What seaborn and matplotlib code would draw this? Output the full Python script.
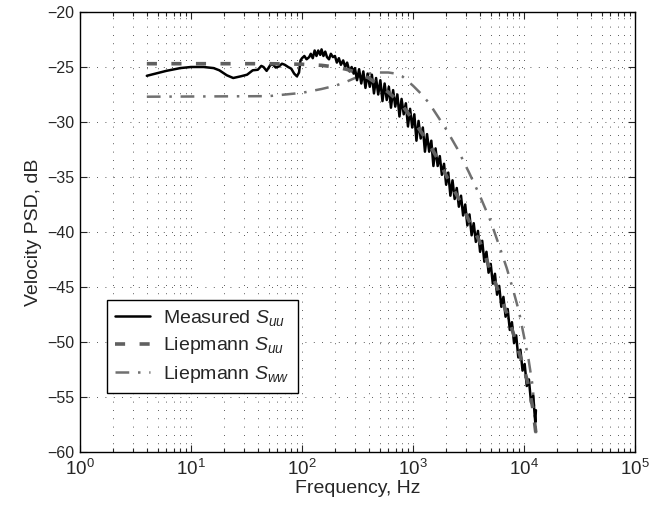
import numpy as np
import pandas as pd
import matplotlib
matplotlib.use("Agg")
import matplotlib.pyplot as plt
from matplotlib.ticker import LogLocator, LogFormatterMathtext, MultipleLocator, NullFormatter
import seaborn as sns

# ---------------- data ----------------
meas_freq = [4, 6, 8, 10, 13, 16, 18, 21, 24, 28, 32, 36, 40, 43, 45, 48, 52, 55, 58, 62,
             66, 70, 75, 80, 85, 90, 94, 97,
             100, 105, 110, 116, 120, 125, 130, 135, 140, 146, 150, 156, 162, 168, 175, 182,
             190, 198, 206, 215, 224, 235, 245, 255, 268, 280, 292,
             300, 313, 327, 342, 357, 373, 390, 408, 426, 445, 465, 486, 508, 531, 555, 580,
             606, 633, 662, 692, 723, 755, 789, 825, 862, 901, 941, 984, 1028, 1074, 1122,
             1173, 1226, 1281, 1338, 1399, 1462, 1527, 1596, 1668, 1743, 1821, 1903, 1989,
             2078, 2172, 2270, 2372, 2478, 2590, 2707, 2828, 2955, 3088, 3227, 3373, 3524,
             3683, 3849, 4022, 4203, 4392, 4590, 4796, 5012, 5238, 5474, 5720, 5978, 6247,
             6528, 6822, 7129, 7450, 7785, 8136, 8502, 8885, 9284, 9702, 10139, 10595,
             11072, 11570, 12091, 12635, 12800]
meas_db = [-25.8, -25.35, -25.1, -25.0, -25.0, -25.1, -25.3, -25.75, -26.0, -25.85, -25.7,
           -25.3, -25.25, -24.9, -25.0, -25.35, -24.8, -24.8, -25.05, -24.95, -24.7, -24.8,
           -25.0, -25.15, -25.6, -25.85, -25.5, -24.4,
           -24.2, -24.0, -24.3, -24.1, -23.8, -24.2, -23.5, -24.0, -23.5, -23.9, -23.4,
           -24.0, -23.6, -24.1, -24.3, -23.8, -24.1, -24.0, -24.6, -24.2, -24.8, -24.4,
           -25.0, -24.6, -25.4, -25.0, -25.6,
           -25.1, -26.2, -25.2, -26.5, -25.4, -26.9, -25.6, -26.8, -25.7, -27.4, -26.0,
           -27.5, -26.2, -28.1, -26.5, -28.0, -26.8, -28.7, -27.1, -28.6, -27.5, -29.5,
           -27.9, -29.3, -28.3, -30.4, -28.8, -30.5, -29.3, -31.7, -29.9, -31.5, -30.5,
           -32.7, -31.1, -32.7, -31.7, -34.0, -32.4, -34.0, -33.1, -34.8, -33.8, -35.7,
           -34.6, -36.7, -35.3, -37.0, -36.0, -37.7, -36.7, -38.5, -37.5, -39.4, -38.4,
           -40.3, -39.2, -40.9, -39.9, -41.8, -40.8, -42.7, -41.8, -43.7, -42.9, -44.7,
           -43.8, -45.7, -44.9, -46.8, -45.9, -47.7, -47.0, -48.9, -48.2, -50.1, -49.4,
           -51.4, -50.7, -52.6, -52.0, -54.0, -53.4, -55.5, -54.9, -57.3, -56.2]

suu_freq = [4, 50, 100, 150, 200, 250, 300, 400, 500, 600, 700, 800, 1000, 1200, 1400,
            1700, 2000, 2400, 2700, 3200, 4000, 5000, 6000, 7000, 8000, 9000, 10000,
            11000, 12000, 12800]
suu_db = [-24.7, -24.7, -24.75, -24.85, -25.0, -25.2, -25.45, -26.0, -26.7, -27.3, -27.9,
          -28.5, -29.8, -31.0, -32.0, -33.5, -34.9, -36.4, -37.3, -39.0, -40.9, -43.5,
          -45.6, -47.4, -49.2, -50.9, -52.4, -54.0, -56.0, -58.3]

sww_freq = [4, 50, 100, 150, 200, 250, 300, 400, 500, 600, 700, 800, 1000, 1200, 1400,
            1700, 2000, 2500, 3200, 4000, 5000, 6000, 7000, 8000, 9000, 10000, 11000,
            12000, 12800]
sww_db = [-27.7, -27.65, -27.35, -27.0, -26.7, -26.35, -26.0, -25.6, -25.5, -25.5, -25.6,
          -25.85, -26.7, -27.5, -28.3, -29.6, -30.7, -32.4, -34.6, -36.7, -39.0, -41.3,
          -43.3, -45.3, -47.2, -49.5, -51.6, -54.1, -58.3]

labels = ["Measured $S_{uu}$", "Liepmann $S_{uu}$", "Liepmann $S_{ww}$"]

# ---------------- style ----------------
sns.set_style("ticks")
plt.rcParams["font.family"] = ["Liberation Sans", "DejaVu Sans"]
plt.rcParams["mathtext.fontset"] = "custom"
plt.rcParams["mathtext.rm"] = "Liberation Sans"
plt.rcParams["mathtext.it"] = "Liberation Sans:italic"
plt.rcParams["mathtext.bf"] = "Liberation Sans:bold"
plt.rcParams["lines.dash_capstyle"] = "butt"

fig = plt.figure(figsize=(6.65, 5.09), dpi=100)
ax = fig.add_axes([80 / 665, 1 - 452 / 509, 555 / 665, 440 / 509])

df_m = pd.DataFrame({"f": meas_freq, "db": meas_db})
df_u = pd.DataFrame({"f": suu_freq, "db": suu_db, "s": labels[1]})
df_w = pd.DataFrame({"f": sww_freq, "db": sww_db, "s": labels[2]})

sns.lineplot(data=df_w, x="f", y="db", ax=ax, estimator=None, sort=False,
             style="s", dashes={labels[2]: (5.5, 3.5, 1, 3.5)},
             color="#707070", linewidth=1.8, zorder=3)
sns.lineplot(data=df_m, x="f", y="db", ax=ax, estimator=None, sort=False,
             color="black", linewidth=1.8, label=labels[0], zorder=4)
sns.lineplot(data=df_u, x="f", y="db", ax=ax, estimator=None, sort=False,
             style="s", dashes={labels[1]: (2.8, 4.0)},
             color="#606060", linewidth=2.6, zorder=5)

for ln in ax.get_lines():
    ln.set_dash_capstyle("butt")

ax.set_xscale("log")
ax.set_xlim(1, 1e5)
ax.set_ylim(-60, -20)
ax.yaxis.set_major_locator(MultipleLocator(5))
ax.xaxis.set_major_locator(LogLocator(base=10, numticks=10))
ax.xaxis.set_minor_locator(LogLocator(base=10, subs=np.arange(2, 10), numticks=20))
ax.xaxis.set_major_formatter(LogFormatterMathtext())
ax.xaxis.set_minor_formatter(NullFormatter())

grid_kw = dict(linestyle=(0, (1, 9)), color="#222222", linewidth=0.6)
ax.grid(True, which="major", axis="both", **grid_kw)
ax.grid(True, which="minor", axis="x", **grid_kw)

ax.tick_params(which="both", direction="in", top=True, right=True, width=0.8)
ax.tick_params(which="major", length=5)
ax.tick_params(which="minor", length=3)
ax.tick_params(axis="y", labelsize=11.5, pad=4)
ax.tick_params(axis="x", labelsize=13.5, pad=5)
for s in ax.spines.values():
    s.set_linewidth(1.0)
    s.set_color("black")

ax.set_xlabel("Frequency, Hz", fontsize=14, labelpad=1)
ax.set_ylabel("Velocity PSD, dB", fontsize=14, labelpad=4)

# legend built from the plotted lines themselves
lines_by_label = {}
for ln in ax.get_lines():
    n = len(np.asarray(ln.get_xdata()))
    if n == len(meas_freq):
        lines_by_label[labels[0]] = ln
    elif n == len(suu_freq):
        lines_by_label[labels[1]] = ln
    elif n == len(sww_freq):
        lines_by_label[labels[2]] = ln
if ax.get_legend() is not None:
    ax.get_legend().remove()
leg = ax.legend([lines_by_label[k] for k in labels], labels, loc="lower left",
                bbox_to_anchor=((107 - 80) / 555, (452 - 393) / 440), borderaxespad=0,
                fontsize=14, frameon=True, fancybox=False, framealpha=1,
                edgecolor="black", handlelength=1.8, handletextpad=0.7,
                labelspacing=0.4, borderpad=0.4)
leg.get_frame().set_linewidth(1.0)

fig.savefig("out.png", dpi=100)
